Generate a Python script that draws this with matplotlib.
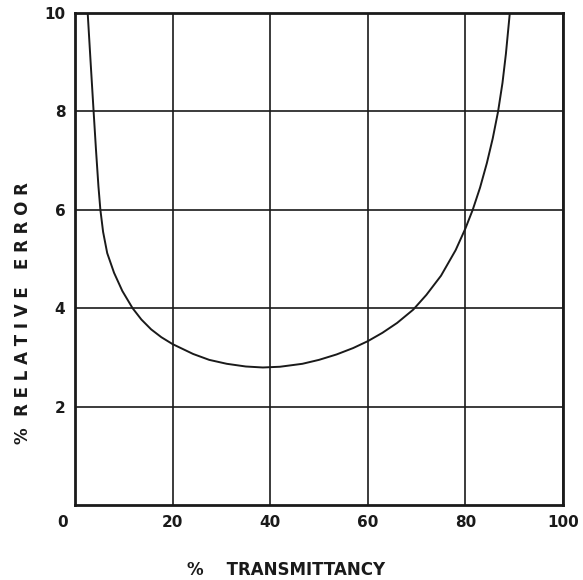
import matplotlib
matplotlib.use("Agg")
import matplotlib.pyplot as plt
import matplotlib.transforms as mtransforms

# % transmittancy and % relative error
transmittancy = [2.6, 3.2, 3.8, 4.3, 4.8, 5.2, 5.76, 6.6, 8.0, 9.7, 11.8, 13.6, 15.6,
                 17.7, 20.0, 24.2, 27.5, 31.1, 35.0, 38.5, 42.0, 46.6, 50.0, 53.6,
                 57.0, 60.0, 63.0, 66.0, 69.3, 72.0, 75.0, 78.0, 80.0, 81.5, 83.0,
                 84.4, 85.6, 86.7, 87.6, 88.3, 89.1]
relative_error = [10.0, 9.0, 8.02, 7.22, 6.48, 6.0, 5.55, 5.12, 4.72, 4.35, 4.0, 3.77, 3.57,
                  3.41, 3.27, 3.07, 2.95, 2.87, 2.815, 2.795, 2.81, 2.87, 2.95, 3.06,
                  3.19, 3.33, 3.5, 3.7, 3.97, 4.27, 4.66, 5.18, 5.62, 6.0, 6.45,
                  6.95, 7.45, 8.0, 8.58, 9.17, 10.0]

x_ticks = [0, 20, 40, 60, 80, 100]
y_ticks = [2, 4, 6, 8, 10]

plt.rcParams['font.family'] = ['DejaVu Sans']

fig = plt.figure(figsize=(5.83, 5.80), dpi=100)
ax = fig.add_axes([75/583, 1 - 505/580, (563 - 75)/583, (505 - 13)/580])

ax.plot(transmittancy, relative_error, color='#1a1a1a', lw=1.4,
        solid_capstyle='round', solid_joinstyle='round')

ax.set_xlim(0, 100)
ax.set_ylim(0, 10)
ax.set_xticks(x_ticks)
ax.set_yticks(y_ticks)
ax.set_xticklabels([str(v) for v in x_ticks], fontweight='bold', fontsize=11, color='#1a1a1a')
ax.set_yticklabels([str(v) for v in y_ticks], fontweight='bold', fontsize=11, color='#1a1a1a')
ax.tick_params(length=0, pad=7)
# the "0" label sits slightly left of the corner in the reference
lbl0 = ax.get_xticklabels()[0]
lbl0.set_transform(lbl0.get_transform() + mtransforms.ScaledTranslation(-12/100, 0, fig.dpi_scale_trans))
ax.grid(True, color='#1a1a1a', lw=1.2)
ax.set_axisbelow(True)
for s in ax.spines.values():
    s.set_linewidth(2.0)
    s.set_color('#1a1a1a')

fig.text(286/583, 1 - 570/580, '%    TRANSMITTANCY', ha='center', va='center',
         fontsize=12, fontweight='bold', color='#1a1a1a')
fig.text(23/583, 1 - 313/580, '%  R E L A T I V E   E R R O R', ha='center', va='center',
         rotation=90, fontsize=12, fontweight='bold', color='#1a1a1a')

fig.savefig('out.png', dpi=100)
